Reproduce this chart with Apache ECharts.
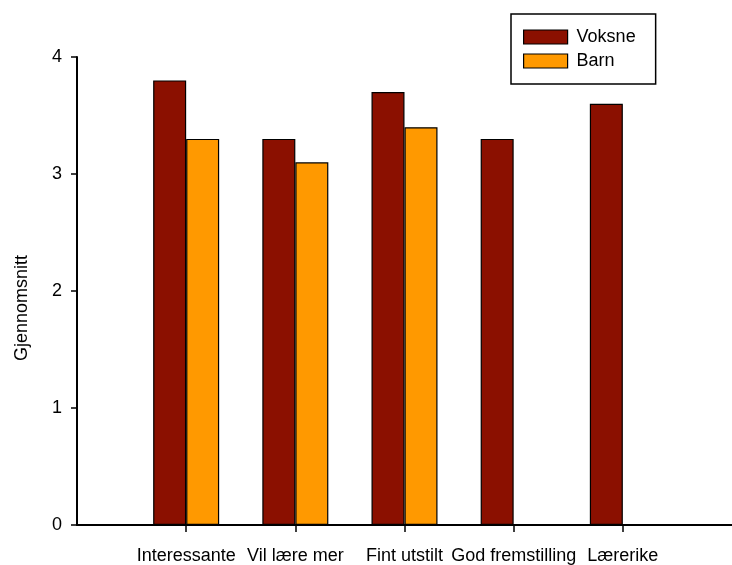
<!DOCTYPE html>
<html>
<head>
<meta charset="utf-8">
<script src="https://cdn.jsdelivr.net/npm/echarts@6/dist/echarts.min.js"></script>
<style>
html,body{margin:0;padding:0;background:#fff;}
#chart{width:732px;height:565px;}
</style>
</head>
<body>
<div id="chart"></div>
<script>
var categories = ['Interessante', 'Vil lære mer', 'Fint utstilt', 'God fremstilling', 'Lærerike'];
var voksne = [3.8, 3.3, 3.7, 3.3, 3.6];
var barn = [3.3, 3.1, 3.4, null, null];
var yTicks = [0, 1, 2, 3, 4];

// Axis spans from position 0 (at y-axis) to 6; categories sit at 1..5
var axisCats = [''].concat(categories).concat(['']);
function pad(arr) { return [null].concat(arr).concat([null]); }

var chart = echarts.init(document.getElementById('chart'));
var font = 'Liberation Sans, Arial, sans-serif';
chart.setOption({
  animation: false,
  backgroundColor: '#fff',
  grid: { left: 77, right: 0, top: 57, bottom: 35, containLabel: false },
  legend: {
    orient: 'vertical',
    left: 511, top: 14,
    width: 146,
    padding: [14, 20, 14, 12],
    borderColor: '#000', borderWidth: 1.5,
    icon: 'rect',
    itemWidth: 44, itemHeight: 14, itemGap: 6,
    textStyle: { fontFamily: font, fontSize: 18, color: '#000', padding: [0, 0, 0, 4] },
    itemStyle: { borderColor: '#000', borderWidth: 1.2 },
    data: ['Voksne', 'Barn']
  },
  xAxis: {
    type: 'category',
    data: axisCats,
    boundaryGap: false,
    axisLine: { lineStyle: { color: '#000', width: 2 } },
    axisTick: { show: true, length: 7, lineStyle: { color: '#000', width: 1.5 },
      interval: function (i, v) { return v !== ''; } },
    axisLabel: { fontFamily: font, fontSize: 18, color: '#000', margin: 22,
      interval: function (i, v) { return v !== ''; } },
    splitLine: { show: false }
  },
  yAxis: {
    type: 'value',
    min: 0, max: 4, interval: 1,
    name: 'Gjennomsnitt',
    nameLocation: 'middle',
    nameGap: 46,
    nameTextStyle: { fontFamily: font, fontSize: 18, color: '#000', padding: [0, 34, 0, 0] },
    axisLine: { show: true, lineStyle: { color: '#000', width: 2 } },
    axisTick: { show: true, length: 6, lineStyle: { color: '#000', width: 1.5 } },
    axisLabel: { fontFamily: font, fontSize: 18, color: '#000', margin: 15,
      formatter: function (v) { return yTicks.indexOf(v) >= 0 ? String(v) : ''; } },
    splitLine: { show: false }
  },
  series: [
    { name: 'Voksne', type: 'bar', data: pad(voksne), barWidth: 33, barGap: '0%',
      itemStyle: { color: '#8B1000', borderColor: '#000', borderWidth: 1.2 } },
    { name: 'Barn', type: 'bar', data: pad(barn), barWidth: 33, barGap: '0%',
      itemStyle: { color: '#FF9900', borderColor: '#000', borderWidth: 1.2 } }
  ]
});
</script>
</body>
</html>
